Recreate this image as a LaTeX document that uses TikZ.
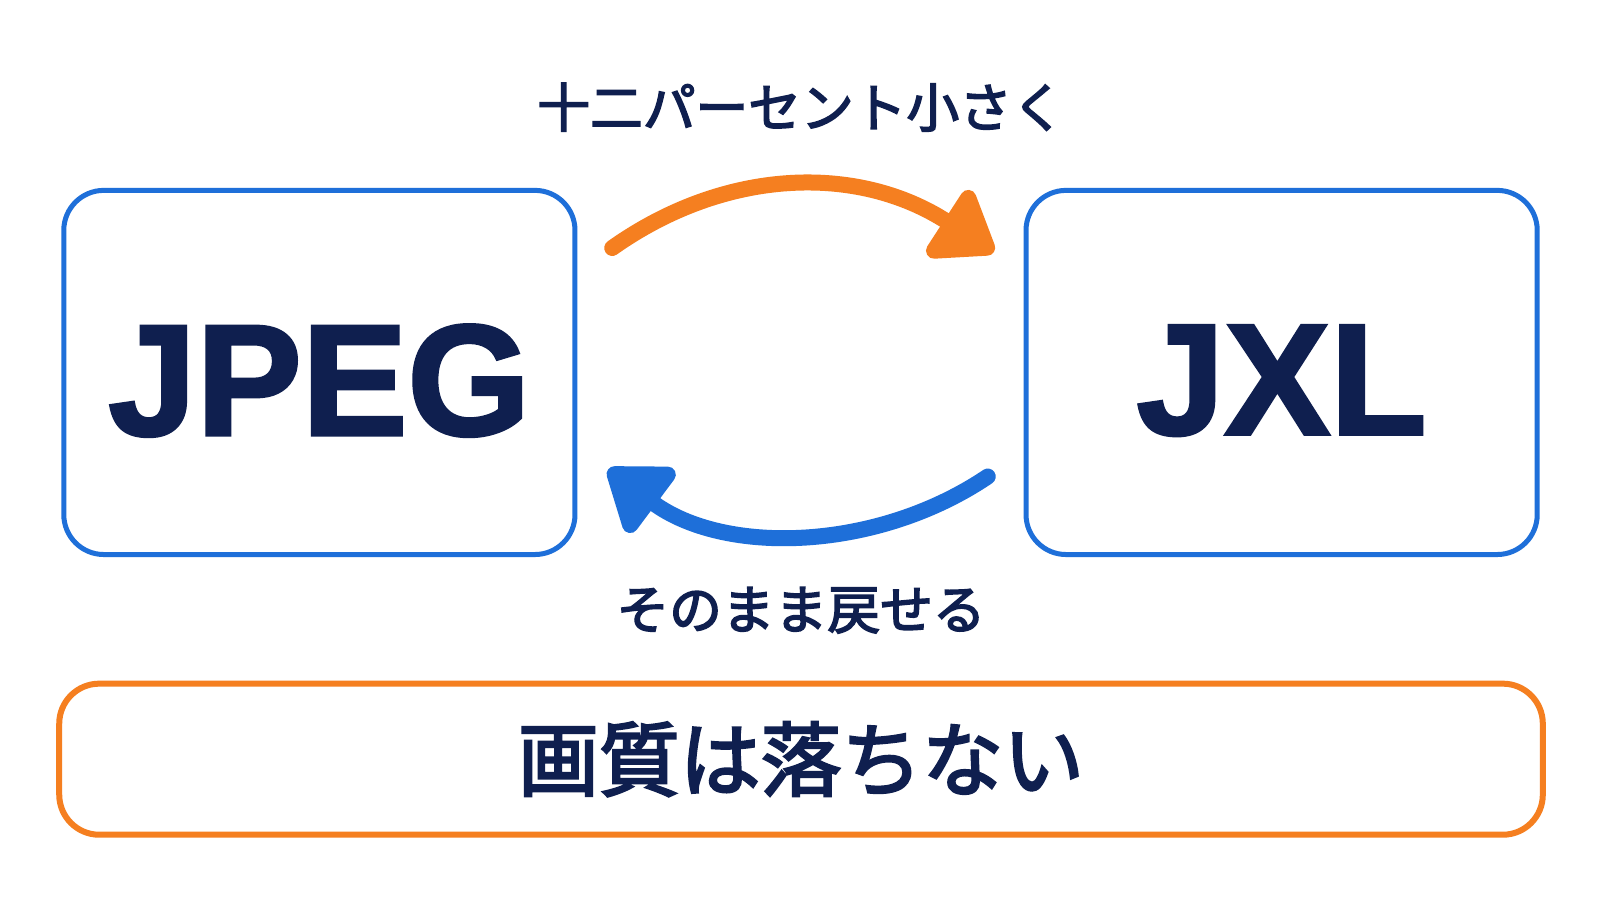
\documentclass[tikz,border=0pt]{standalone}
\usepackage{fontspec}
\setmainfont{Liberation Sans}[BoldFont={Liberation Sans Bold}, BoldFeatures={FakeBold=2}]
\newfontfamily\cjk{Noto Sans CJK JP}[FakeBold=3]
\usetikzlibrary{arrows.meta, positioning}
\definecolor{navy}{HTML}{0F1F4F}
\definecolor{boxblue}{HTML}{1E6FD9}
\definecolor{arrorange}{HTML}{F57F20}
\tikzset{
  fmt/.style={draw=boxblue, line width=0.5mm, rounded corners=4mm},
  label/.style={text=navy, font=\cjk},
  flow/.style={line width=1.6mm, line cap=round, -{Triangle[length=6.5mm, width=9mm, round]}}
}
\begin{document}
\begin{tikzpicture}[x=0.102mm, y=-0.102mm]
  \useasboundingbox[fill=white] (0,0) rectangle (1568,882);

  % the two format boxes
  \node[fmt, minimum width=51.1mm, minimum height=36.4mm] (jpeg) at (313,365) {};
  \node[text=navy, font=\fontsize{45}{45}\selectfont\bfseries] at (313,373) {JPEG};
  \node[fmt, minimum width=51.1mm, minimum height=36.4mm] (jxl) at (1256,365) {};
  \node[text=navy, font=\fontsize{45}{45}\selectfont\bfseries] at (1256,373) {JXL};

  % labels
  \node[label, font=\cjk\fontsize{15}{15}\selectfont] (smaller) at (785,105) {十二パーセント小さく};
  \node[label, font=\cjk\fontsize{15}{15}\selectfont] (back) at (785,598) {そのまま戻せる};

  % arrows
  \coordinate (o1) at (600,243);
  \coordinate (o2) at (974,247);
  \coordinate (b1) at (968,467);
  \coordinate (b2) at (596,460);
  \draw[flow, arrorange] (o1) .. controls (710,165) and (840,160) .. (o2);
  \draw[flow, boxblue] (b1) .. controls (860,540) and (710,545) .. (b2);

  % quality box
  \node[draw=arrorange, line width=0.6mm, rounded corners=4mm,
        minimum width=148.3mm, minimum height=15.1mm] (quality) at (785,744) {};
  \node[label, font=\cjk\fontsize{23}{23}\selectfont] at (quality) {画質は落ちない};
\end{tikzpicture}
\end{document}
